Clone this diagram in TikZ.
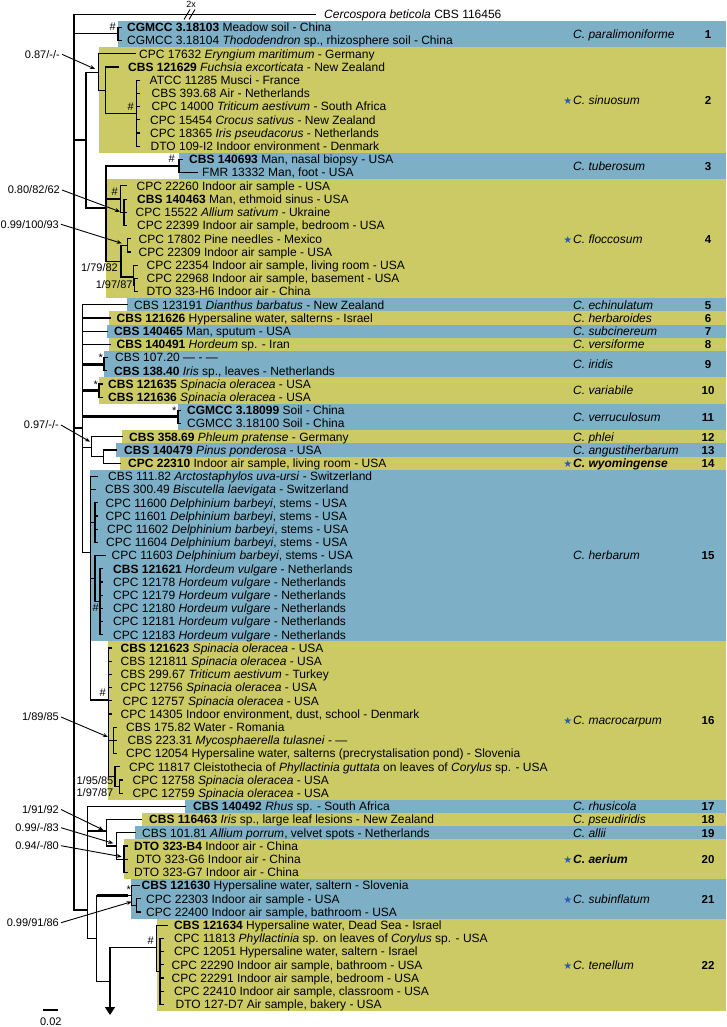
\documentclass[tikz,border=0pt]{standalone}
\usepackage{fontspec}
\setmainfont{Liberation Sans}
\newfontfamily\dejavu{DejaVu Sans}
\usetikzlibrary{arrows.meta}
\definecolor{bandblue}{RGB}{125,175,198}
\definecolor{bandyel}{RGB}{204,202,100}
\definecolor{starblue}{RGB}{40,90,175}
\newcommand\T[3]{\node[lab] (r#1) at (#2,{18.6+13.2*#1}) {#3};}
\newcommand\clade[6]{%
  \fill[#5] (#4,{14.3+13.2*#2-6.6}) rectangle (726,{14.3+13.2*#3+6.6});
  \node[sp] (sp#1) at (573,{18.6+6.6*(#2+#3)}) {#6};
  \node[num] (n#1) at (708,{18.6+6.6*(#2+#3)}) {#1};}
\newcommand\st[1]{\node[anchor=base east,inner sep=0pt,text=starblue,font=\dejavu\fontsize{10}{10}\selectfont] (star#1) at ([xshift=-0.5pt]sp#1.base west) {★};}
\begin{document}
\begin{tikzpicture}[x=1pt,y=-1pt,
  tree/.style={line width=1.2pt,line cap=rect},
  thk/.style={line width=3pt},
  lab/.style={anchor=base west,inner sep=0pt,font=\fontsize{12}{13}\selectfont},
  sp/.style={anchor=base west,inner sep=0pt,font=\fontsize{12}{13}\selectfont\itshape},
  num/.style={anchor=base,inner sep=0pt,font=\fontsize{11.5}{13}\selectfont\bfseries},
  sup/.style={inner sep=0pt,font=\fontsize{11}{12}\selectfont},
  ptr/.style={line width=0.9pt,-{Stealth[length=5pt,width=4pt]}},
  mk/.style={inner sep=0pt,font=\fontsize{11}{12}\selectfont},
]
\useasboundingbox (0,0) rectangle (726,1027);
\fill[white] (0,0) rectangle (726,1027);
% ---------- coloured bands, species, numbers
\clade{1}{1}{2}{118}{bandblue}{C. paralimoniforme}
\clade{2}{3}{10}{99}{bandyel}{C. sinuosum}
\clade{3}{11}{12}{179}{bandblue}{C. tuberosum}
\clade{4}{13}{21}{106}{bandyel}{C. floccosum}
\clade{5}{22}{22}{127}{bandblue}{C. echinulatum}
\clade{6}{23}{23}{109}{bandyel}{C. herbaroides}
\clade{7}{24}{24}{107}{bandblue}{C. subcinereum}
\clade{8}{25}{25}{109}{bandyel}{C. versiforme}
\clade{9}{26}{27}{104}{bandblue}{C. iridis}
\clade{10}{28}{29}{99}{bandyel}{C. variabile}
\clade{11}{30}{31}{178}{bandblue}{C. verruculosum}
\clade{12}{32}{32}{122}{bandyel}{C. phlei}
\clade{13}{33}{33}{116}{bandblue}{C. angustiherbarum}
\clade{14}{34}{34}{120}{bandyel}{\bfseries C. wyomingense}
\clade{15}{35}{47}{90}{bandblue}{C. herbarum}
\clade{16}{48}{59}{108}{bandyel}{C. macrocarpum}
\clade{17}{60}{60}{185}{bandblue}{C. rhusicola}
\clade{18}{61}{61}{142}{bandyel}{C. pseudiridis}
\clade{19}{62}{62}{135}{bandblue}{C. allii}
\clade{20}{63}{65}{124}{bandyel}{\bfseries C. aerium}
\clade{21}{66}{68}{131}{bandblue}{C. subinflatum}
\clade{22}{69}{75}{157}{bandyel}{C. tenellum}
\st{2}\st{4}\st{14}\st{16}\st{20}\st{21}\st{22}
% ---------- taxon labels
\T{0}{324}{\textit{Cercospora beticola} CBS 116456}
\T{1}{127}{\textbf{CGMCC 3.18103} Meadow soil - China}
\T{2}{127}{CGMCC 3.18104 \textit{Thododendron} sp., rhizosphere soil - China}
\T{3}{139}{CPC 17632 \textit{Eryngium maritimum} - Germany}
\T{4}{128}{\textbf{CBS 121629} \textit{Fuchsia excorticata} - New Zealand}
\T{5}{149.5}{ATCC 11285 Musci - France}
\T{6}{151.5}{CBS 393.68 Air - Netherlands}
\T{7}{151.5}{CPC 14000 \textit{Triticum aestivum} - South Africa}
\T{8}{150}{CPC 15454 \textit{Crocus sativus} - New Zealand}
\T{9}{150}{CPC 18365 \textit{Iris pseudacorus} - Netherlands}
\T{10}{150.5}{DTO 109-I2 Indoor environment - Denmark}
\T{11}{189}{\textbf{CBS 140693} Man, nasal biopsy - USA}
\T{12}{202}{FMR 13332 Man, foot - USA}
\T{13}{136.5}{CPC 22260 Indoor air sample - USA}
\T{14}{137}{\textbf{CBS 140463} Man, ethmoid sinus - USA}
\T{15}{135.5}{CPC 15522 \textit{Allium sativum} - Ukraine}
\T{16}{137}{CPC 22399 Indoor air sample, bedroom - USA}
\T{17}{138.5}{CPC 17802 Pine needles - Mexico}
\T{18}{138.5}{CPC 22309 Indoor air sample - USA}
\T{19}{146.5}{CPC 22354 Indoor air sample, living room - USA}
\T{20}{146.5}{CPC 22968 Indoor air sample, basement - USA}
\T{21}{146.5}{DTO 323-H6 Indoor air - China}
\T{22}{134}{CBS 123191 \textit{Dianthus barbatus} - New Zealand}
\T{23}{116.5}{\textbf{CBS 121626} Hypersaline water, salterns - Israel}
\T{24}{114}{\textbf{CBS 140465} Man, sputum - USA}
\T{25}{116.5}{\textbf{CBS 140491} \textit{Hordeum} sp. - Iran}
\T{26}{115}{CBS 107.20 — - —}
\T{27}{114}{\textbf{CBS 138.40} \textit{Iris} sp., leaves - Netherlands}
\T{28}{108}{\textbf{CBS 121635} \textit{Spinacia oleracea} - USA}
\T{29}{108}{\textbf{CBS 121636} \textit{Spinacia oleracea} - USA}
\T{30}{187}{\textbf{CGMCC 3.18099} Soil - China}
\T{31}{187}{CGMCC 3.18100 Soil - China}
\T{32}{129}{\textbf{CBS 358.69} \textit{Phleum pratense} - Germany}
\T{33}{124}{\textbf{CBS 140479} \textit{Pinus ponderosa} - USA}
\T{34}{128}{\textbf{CPC 22310} Indoor air sample, living room - USA}
\T{35}{108}{CBS 111.82 \textit{Arctostaphylos uva-ursi} - Switzerland}
\T{36}{105}{CBS 300.49 \textit{Biscutella laevigata} - Switzerland}
\T{37}{105.5}{CPC 11600 \textit{Delphinium barbeyi}, stems - USA}
\T{38}{105.5}{CPC 11601 \textit{Delphinium barbeyi}, stems - USA}
\T{39}{107}{CPC 11602 \textit{Delphinium barbeyi}, stems - USA}
\T{40}{106}{CPC 11604 \textit{Delphinium barbeyi}, stems - USA}
\T{41}{111.5}{CPC 11603 \textit{Delphinium barbeyi}, stems - USA}
\T{42}{113}{\textbf{CBS 121621} \textit{Hordeum vulgare} - Netherlands}
\T{43}{113}{CPC 12178 \textit{Hordeum vulgare} - Netherlands}
\T{44}{113}{CPC 12179 \textit{Hordeum vulgare} - Netherlands}
\T{45}{113}{CPC 12180 \textit{Hordeum vulgare} - Netherlands}
\T{46}{113}{CPC 12181 \textit{Hordeum vulgare} - Netherlands}
\T{47}{113}{CPC 12183 \textit{Hordeum vulgare} - Netherlands}
\T{48}{120.5}{\textbf{CBS 121623} \textit{Spinacia oleracea} - USA}
\T{49}{120.5}{CBS 121811 \textit{Spinacia oleracea} - USA}
\T{50}{120.5}{CBS 299.67 \textit{Triticum aestivum} - Turkey}
\T{51}{120.5}{CPC 12756 \textit{Spinacia oleracea} - USA}
\T{52}{122.5}{CPC 12757 \textit{Spinacia oleracea} - USA}
\T{53}{120.5}{CPC 14305 Indoor environment, dust, school - Denmark}
\T{54}{126}{CBS 175.82 Water - Romania}
\T{55}{127.5}{CBS 223.31 \textit{Mycosphaerella tulasnei} - —}
\T{56}{126}{CPC 12054 Hypersaline water, salterns (precrystalisation pond) - Slovenia}
\T{57}{129}{CPC 11817 Cleistothecia of \textit{Phyllactinia guttata} on leaves of \textit{Corylus} sp. - USA}
\T{58}{132.5}{CPC 12758 \textit{Spinacia oleracea} - USA}
\T{59}{132.5}{CPC 12759 \textit{Spinacia oleracea} - USA}
\T{60}{193}{\textbf{CBS 140492} \textit{Rhus} sp. - South Africa}
\T{61}{149}{\textbf{CBS 116463} \textit{Iris} sp., large leaf lesions - New Zealand}
\T{62}{142}{CBS 101.81 \textit{Allium porrum}, velvet spots - Netherlands}
\T{63}{134}{\textbf{DTO 323-B4} Indoor air - China}
\T{64}{136}{DTO 323-G6 Indoor air - China}
\T{65}{134}{DTO 323-G7 Indoor air - China}
\T{66}{141.5}{\textbf{CBS 121630} Hypersaline water, saltern - Slovenia}
\T{67}{146}{CPC 22303 Indoor air sample - USA}
\T{68}{146}{CPC 22400 Indoor air sample, bathroom - USA}
\T{69}{174}{\textbf{CBS 121634} Hypersaline water, Dead Sea - Israel}
\T{70}{174}{CPC 11813 \textit{Phyllactinia} sp. on leaves of \textit{Corylus} sp. - USA}
\T{71}{174}{CPC 12051 Hypersaline water, saltern - Israel}
\T{72}{171.5}{CPC 22290 Indoor air sample, bathroom - USA}
\T{73}{171.5}{CPC 22291 Indoor air sample, bedroom - USA}
\T{74}{174}{CPC 22410 Indoor air sample, classroom - USA}
\T{75}{175.5}{DTO 127-D7 Air sample, bakery - USA}
% ---------- tree
\coordinate (root) at (74,14.3);
\draw[tree] (root) -- (74,910);
\draw[tree] (root) -- (315,14.3);
\draw[line width=0.9pt] (184,19.5) -- (190,9.5) (189,19.5) -- (195,9.5);
\node[mk,font=\fontsize{9}{10}\selectfont] (twox) at (191,4) {2x};
% paralimoniforme
\draw[tree] (74,33.3) -- (118,33.3) (118,27.5) -- (118,40.7) (118,27.5) -- (121,27.5) (118,40.7) -- (121,40.7);
\node[mk,anchor=east] (h1) at (116,27) {\#};
% node A
\draw[tree] (74,140) -- (86,140) (86,72.7) -- (86,208);
% sinuosum
\draw[tree] (86,72.7) -- (98.7,72.7) (98.7,53.9) -- (98.7,90.3) (98.7,53.9) -- (135,53.9);
\draw[tree] (98.7,90.3) -- (105.3,90.3) (105.3,67.1) -- (105.3,113.3) (105.3,67.1) -- (118,67.1);
\draw[tree] (105.3,113.3) -- (136.7,113.3) (136.7,80.3) -- (136.7,146.3);
\foreach \i in {5,...,10} \draw[tree] (136.7,{14.3+13.2*\i}) -- (139,{14.3+13.2*\i});
\node[mk,anchor=east] (h2) at (134,107) {\#};
% node B
\draw[tree] (86,208) -- (106,208) (106,166) -- (106,261.5);
% tuberosum
\draw[tree] (106,166) -- (179,166) (179,159.5) -- (179,172.7) (179,159.5) -- (182,159.5) (179,172.7) -- (197,172.7);
\node[mk,anchor=east] (h3) at (175,159) {\#};
% floccosum
\draw[tree] (106,199) -- (120.7,199) (120.7,185.9) -- (120.7,212.5) (120.7,185.9) -- (126,185.9);
\node[mk,anchor=east] (h4) at (118,192) {\#};
\draw[tree] (120.7,212.5) -- (124,212.5) (124,199.1) -- (124,225.5);
\foreach \i in {14,15,16} \draw[tree] (124,{14.3+13.2*\i}) -- (126.5,{14.3+13.2*\i});
\draw[tree] (106,261.5) -- (121,261.5) (121,245.3) -- (121,277);
\draw[tree] (121,245.3) -- (127.7,245.3) (127.7,238.7) -- (127.7,251.9) (127.7,238.7) -- (130,238.7) (127.7,251.9) -- (130,251.9);
\draw[tree] (121,277) -- (133.3,277) (133.3,265.1) -- (133.3,285) (133.3,265.1) -- (137,265.1);
\draw[tree] (133.3,285) -- (134.5,285) (134.5,278.3) -- (134.5,291.5) (134.5,278.3) -- (137,278.3) (134.5,291.5) -- (137,291.5);
% node C
\draw[tree] (74,428) -- (82.7,428) (82.7,304.7) -- (82.7,552.7);
\draw[tree] (82.7,304.7) -- (127,304.7) (82.7,317.9) -- (110,317.9) (82.7,331.1) -- (107,331.1) (82.7,344.3) -- (110,344.3);
\draw[thk] (82.7,364.1) -- (104,364.1);
\draw[tree] (104,357.5) -- (104,370.7) (104,357.5) -- (107,357.5) (104,370.7) -- (106,370.7);
\node[mk,anchor=east] (a1) at (103,358) {*};
\draw[thk] (82.7,390.5) -- (99,390.5);
\draw[tree] (99,383.9) -- (99,397.1) (99,383.9) -- (102,383.9) (99,397.1) -- (102,397.1);
\node[mk,anchor=east] (a2) at (98,385) {*};
\draw[thk] (82.7,416.9) -- (178,416.9);
\draw[tree] (178,410.3) -- (178,423.5) (178,410.3) -- (180.5,410.3) (178,423.5) -- (180.5,423.5);
\node[mk,anchor=east] (a3) at (176.5,411) {*};
\draw[tree] (82.7,447.3) -- (91.7,447.3) (91.7,436.7) -- (91.7,456.5) (91.7,436.7) -- (122,436.7);
\draw[tree] (91.7,456.5) -- (103.3,456.5) (103.3,449.9) -- (103.3,463.1) (103.3,449.9) -- (116,449.9) (103.3,463.1) -- (120,463.1);
% herbarum + macrocarpum
\draw[tree] (82.7,552.7) -- (90.7,552.7) (90.7,476.3) -- (90.7,700);
\draw[tree] (90.7,476.3) -- (97,476.3) (90.7,489.5) -- (95,489.5);
\draw[tree] (90.7,522.5) -- (95,522.5) (95,502.7) -- (95,542.3);
\foreach \i in {37,...,40} \draw[tree] (95,{14.3+13.2*\i}) -- (97,{14.3+13.2*\i});
\draw[tree] (90.7,578.6) -- (95,578.6) (95,555.5) -- (95,601.7) (95,555.5) -- (105,555.5);
\draw[tree] (95,601.7) -- (100,601.7) (100,568.7) -- (100,634.7);
\foreach \i in {42,...,47} \draw[tree] (100,{14.3+13.2*\i}) -- (102,{14.3+13.2*\i});
\node[mk,anchor=east] (h5) at (99,608) {\#};
\draw[tree] (90.7,700) -- (108.3,700) (108.3,647.9) -- (108.3,776.3);
\foreach \i in {48,...,53} \draw[tree] (108.3,{14.3+13.2*\i}) -- (111,{14.3+13.2*\i});
\node[mk,anchor=east] (h6) at (106,693) {\#};
\draw[tree] (108.3,740.3) -- (113.3,740.3) (113.3,727.1) -- (113.3,753.5);
\foreach \i in {54,55,56} \draw[tree] (113.3,{14.3+13.2*\i}) -- (116,{14.3+13.2*\i});
\draw[tree] (108.3,776.3) -- (115,776.3) (115,766.7) -- (115,786.5) (115,766.7) -- (119,766.7);
\draw[tree] (115,786.5) -- (119.3,786.5) (119.3,779.9) -- (119.3,793.1) (119.3,779.9) -- (122,779.9) (119.3,793.1) -- (122,793.1);
% lower clades
\draw[tree] (74,910) -- (87.3,910) (87.3,806.3) -- (87.3,938.5);
\draw[tree] (87.3,806.3) -- (185,806.3);
\draw[tree] (87.3,831) -- (106.7,831) (106.7,819.5) -- (106.7,846) (106.7,819.5) -- (141.7,819.5);
\draw[tree] (106.7,846) -- (116.7,846) (116.7,832.7) -- (116.7,859.1) (116.7,832.7) -- (135,832.7);
\draw[tree] (116.7,859.1) -- (124,859.1) (124,845.9) -- (124,872.3);
\foreach \i in {63,64,65} \draw[tree] (124,{14.3+13.2*\i}) -- (127,{14.3+13.2*\i});
\draw[tree] (87.3,938.5) -- (96.7,938.5) (96.7,895.4) -- (96.7,981.7);
\draw[thk] (96.7,895.4) -- (128,895.4);
\draw[tree] (128,895.4) -- (131.7,895.4) (131.7,885.5) -- (131.7,905.3) (131.7,885.5) -- (139,885.5);
\draw[tree] (131.7,905.3) -- (136.7,905.3) (136.7,898.7) -- (136.7,911.9) (136.7,898.7) -- (140,898.7) (136.7,911.9) -- (140,911.9);
\node[mk,anchor=east] (a4) at (131,890) {*};
\draw[tree] (96.7,981.7) -- (110,981.7);
\draw[tree] (110,947.7) -- (156.7,947.7) (156.7,925.1) -- (156.7,971.3) (156.7,925.1) -- (167,925.1);
\draw[tree] (156.7,971.3) -- (160,971.3) (160,938.3) -- (160,1004.3);
\foreach \i in {70,...,75} \draw[tree] (160,{14.3+13.2*\i}) -- (163,{14.3+13.2*\i});
\node[mk,anchor=east] (h7) at (154,941) {\#};
\draw[line width=1.2pt,-{Triangle[length=8pt,width=10pt]}] (110,947.7) -- (110,1015);
% ---------- support values
\node[sup,anchor=east] (p1) at (60,54.3) {0.87/-/-};
\draw[ptr] ([xshift=2pt]p1.east) -- (95,69);
\node[sup,anchor=east] (p2) at (60,190) {0.80/82/62};
\draw[ptr] ([xshift=2pt]p2.east) -- (120,211.7);
\node[sup,anchor=east] (p3) at (59,224.3) {0.99/100/93};
\draw[ptr] ([xshift=2pt]p3.east) -- (121.7,243.3);
\node[sup,anchor=east] (p4) at (118,267.7) {1/79/82};
\node[sup,anchor=east] (p5) at (132.7,285) {1/97/87};
\node[sup,anchor=east] (p6) at (59,425) {0.97/-/-};
\draw[ptr] ([xshift=2pt]p6.east) -- (90,441.7);
\node[sup,anchor=east] (p7) at (59,717) {1/89/85};
\draw[ptr] ([xshift=2pt]p7.east) -- (108,737);
\node[sup,anchor=east] (p8) at (113.5,781) {1/95/85};
\node[sup,anchor=east] (p9) at (113.5,792.7) {1/97/87};
\node[sup,anchor=east] (p10) at (59,809.5) {1/91/92};
\draw[ptr] ([xshift=2pt]p10.east) -- (103.3,830);
\node[sup,anchor=east] (p11) at (59,827.7) {0.99/-/83};
\draw[ptr] ([xshift=2pt]p11.east) -- (113.3,843.3);
\node[sup,anchor=east] (p12) at (59,845.7) {0.94/-/80};
\draw[ptr] ([xshift=2pt]p12.east) -- (121.7,856.7);
\node[sup,anchor=east] (p13) at (59,922.7) {0.99/91/86};
\draw[ptr] ([xshift=2pt]p13.east) -- (131.7,901.7);
% ---------- scale bar
\draw[line width=1.2pt] (43.3,1010) -- (58.3,1010);
\node[sup] (scale) at (50.8,1021.5) {0.02};
\end{tikzpicture}
\end{document}
